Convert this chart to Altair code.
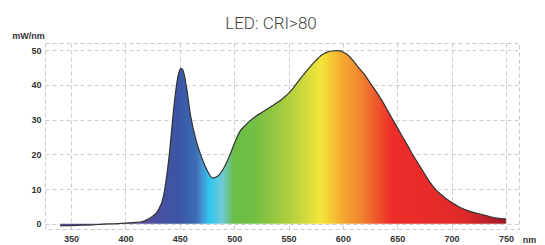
import altair as alt
import pandas as pd

# Spectrum (wavelength nm -> mW/nm)
wavelength = [340, 350, 360, 370, 380, 390, 400, 410, 415, 420, 425, 430, 435, 440, 445, 448,
              451, 453, 456, 460, 465, 470, 475, 480, 485, 490, 495, 500, 505, 510, 515, 520,
              525, 530, 535, 540, 545, 550, 555, 560, 565, 570, 575, 580, 585, 590, 595, 600,
              605, 610, 615, 620, 625, 630, 635, 640, 645, 650, 655, 660, 665, 670, 675, 680,
              685, 690, 695, 700, 705, 710, 715, 720, 725, 730, 735, 740, 745, 750]
power = [-0.6, -0.5, -0.4, -0.3, -0.1, 0.0, 0.2, 0.4, 0.6, 1.2, 2.2, 3.8, 8.0, 19.0, 35.0, 42.0,
         44.8, 44.2, 39.6, 31.0, 24.0, 19.2, 15.5, 13.2, 13.8, 15.8, 19.0, 23.0, 26.5, 28.3, 29.8, 31.0,
         32.0, 33.0, 34.0, 35.0, 36.2, 37.6, 39.4, 41.5, 43.4, 45.3, 47.0, 48.5, 49.4, 49.8, 49.9, 49.5,
         48.5, 46.8, 44.8, 43.0, 40.6, 38.4, 36.0, 33.3, 30.5, 27.8, 25.0, 22.3, 19.5, 17.0, 14.5, 12.0,
         10.0, 8.5, 7.2, 6.2, 5.2, 4.4, 3.8, 3.3, 2.9, 2.5, 2.1, 1.7, 1.5, 1.4]

x_ticks = [350, 400, 450, 500, 550, 600, 650, 700, 750]
y_ticks = [0, 10, 20, 30, 40, 50]

# Spectral fill colours along the wavelength axis
grad_nm = [340, 413, 430, 450, 465, 470, 477, 489, 500, 520, 545, 565, 580, 590, 603, 615,
           630, 645, 710, 740, 750]
grad_colors = ["#5b4a9c", "#5b4a9c", "#4a4fa0", "#3a56a5", "#3d6db5", "#4590d0", "#2fc4ef",
               "#70cad8", "#6abd46", "#74bf44", "#a5cb3e", "#d0da3c", "#f2e63a", "#f6c733",
               "#f4a030", "#f08a30", "#ef5a2c", "#ee2d2a", "#e02a2a", "#b01e28", "#a01a28"]

df = pd.DataFrame({"nm": wavelength, "mw": power})
lo, hi = min(wavelength), max(wavelength)
stops = [alt.GradientStop(offset=(n - lo) / (hi - lo), color=c) for n, c in zip(grad_nm, grad_colors)]

x_enc = alt.X("nm:Q", scale=alt.Scale(domain=[326, 762], nice=False, zero=False),
              axis=alt.Axis(values=x_ticks, title="nm", titleX=484, titleY=10,
                            titleBaseline="middle", titleAlign="center", labelPadding=5,
                            labelOverlap=False))
y_enc = alt.Y("mw:Q", scale=alt.Scale(domain=[-1.5, 52.1], nice=False, zero=False),
              axis=alt.Axis(values=y_ticks, title="mW/nm", titleAngle=0, titleX=-17, titleY=-8,
                            titleAlign="center", titleBaseline="middle", labelPadding=4,
                            labelOverlap=False, labelBound=False))

base = alt.Chart(df).encode(x=x_enc, y=y_enc)
area = base.mark_area(
    color=alt.Gradient(gradient="linear", stops=stops, x1=0, x2=1, y1=0, y2=0),
    opacity=1, interpolate="monotone",
)
line = base.mark_line(color="#333333", strokeWidth=1.2, interpolate="monotone")

chart = (
    alt.layer(area, line)
    .properties(
        width=474,
        height=186,
        autosize=alt.AutoSizeParams(type="none"),
        padding={"left": 37, "top": 35, "right": 18, "bottom": 14},
        title=alt.TitleParams("LED: CRI>80", font="Roboto", fontSize=17, fontWeight=300,
                              color="#444444", anchor="middle", dx=-11, dy=12, offset=10),
    )
    .configure_view(stroke="#c8c8c8", strokeDash=[4, 3], strokeWidth=1)
    .configure_axis(
        grid=True, gridColor="#cccccc", gridDash=[4, 3], gridWidth=1,
        domain=False, ticks=False, labelOverlap=False,
        labelFont="Liberation Sans", labelFontWeight="bold", labelFontSize=9, labelColor="#333333",
        titleFont="Liberation Sans", titleFontWeight="bold", titleFontSize=9, titleColor="#333333",
    )
)

chart.save("out.html", embed_options={"renderer": "svg", "actions": False})
